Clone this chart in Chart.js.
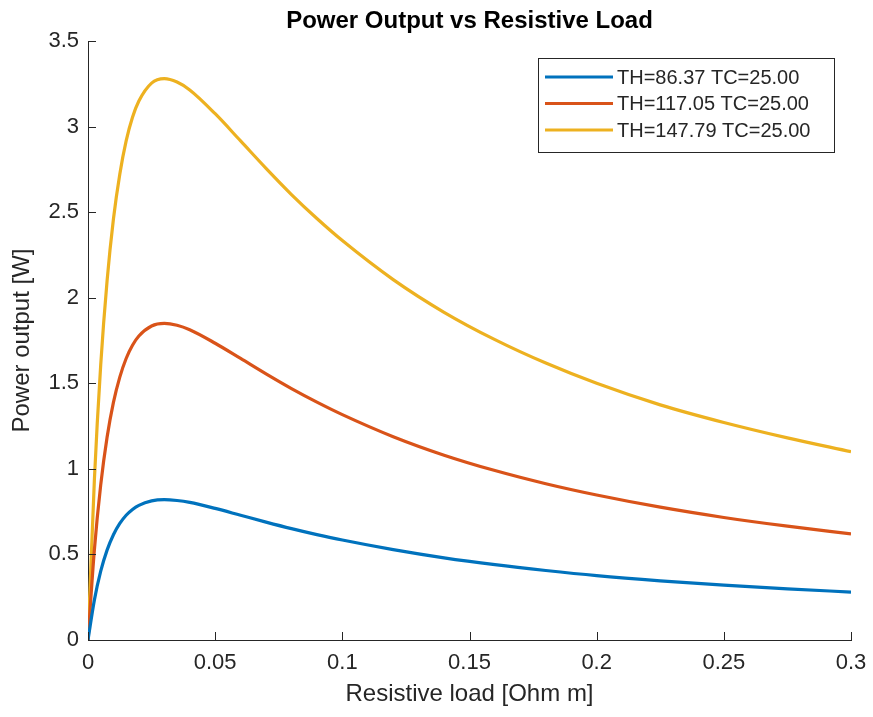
<!DOCTYPE html>
<html>
<head>
<meta charset="utf-8">
<title>Power Output vs Resistive Load</title>
<script src="https://cdn.jsdelivr.net/npm/chart.js@4/dist/chart.umd.min.js"></script>
<style>
  html, body { margin: 0; padding: 0; background: #ffffff; }
  #wrap { width: 873px; height: 717px; }
</style>
</head>
<body>
<div id="wrap"><canvas id="plot" width="873" height="717"></canvas></div>
<script>
// Values
const loadValues = [0, 0.0025, 0.005, 0.0075, 0.01, 0.0125, 0.015, 0.0175, 0.02, 0.025, 0.03, 0.035, 0.04,
    0.05, 0.06, 0.07, 0.08, 0.09, 0.1, 0.12, 0.14, 0.16, 0.18, 0.2, 0.225, 0.25, 0.275, 0.3];

const powerTH86 = [0, 0.233, 0.402, 0.525, 0.615, 0.681, 0.729, 0.763, 0.787, 0.813, 0.820, 0.815, 0.804,
    0.769, 0.729, 0.689, 0.651, 0.616, 0.584, 0.528, 0.480, 0.440, 0.406, 0.376, 0.346, 0.321, 0.299, 0.280];

const powerTH117 = [0, 0.525, 0.906, 1.184, 1.388, 1.536, 1.645, 1.722, 1.776, 1.835, 1.850, 1.839, 1.813,
    1.734, 1.645, 1.555, 1.469, 1.390, 1.317, 1.188, 1.080, 0.990, 0.913, 0.847, 0.776, 0.716, 0.665, 0.620];

const powerTH147 = [0, 0.932, 1.607, 2.099, 2.460, 2.722, 2.916, 3.054, 3.149, 3.254, 3.280, 3.260, 3.214,
    3.075, 2.916, 2.756, 2.603, 2.463, 2.334, 2.106, 1.915, 1.755, 1.618, 1.500, 1.374, 1.271, 1.181, 1.100];

const seriesLabels = ['TH=86.37 TC=25.00', 'TH=117.05 TC=25.00', 'TH=147.79 TC=25.00'];
const xTickValues = [0, 0.05, 0.1, 0.15, 0.2, 0.25, 0.3];
const yTickValues = [0, 0.5, 1, 1.5, 2, 2.5, 3, 3.5];

const colors = ['#0072BD', '#D95319', '#EDB120'];
const axisColor = '#262626';
const fontFamily = '"Liberation Sans", Arial, Helvetica, sans-serif';

const toPoints = ys => ys.map((y, i) => ({ x: loadValues[i], y }));

const datasets = [powerTH86, powerTH117, powerTH147].map((ys, i) => ({
    label: seriesLabels[i],
    data: toPoints(ys),
    borderColor: colors[i],
    backgroundColor: colors[i],
    borderWidth: 3.2,
    pointRadius: 0,
    cubicInterpolationMode: 'monotone',
    fill: false,
}));

// MATLAB style: ticks pointing into the axes, title, boxed legend in the corner
const matlabPlugin = {
    id: 'matlabLook',
    afterDatasetsDraw(chart) {
        const ctx = chart.ctx;
        const { x, y } = chart.scales;
        const area = chart.chartArea;
        const len = 8;
        ctx.save();
        ctx.strokeStyle = axisColor;
        ctx.lineWidth = 1;
        x.ticks.forEach(t => {
            const px = Math.round(x.getPixelForValue(t.value)) + 0.5;
            ctx.beginPath();
            ctx.moveTo(px, area.bottom);
            ctx.lineTo(px, area.bottom - len);
            ctx.stroke();
        });
        y.ticks.forEach(t => {
            const py = Math.round(y.getPixelForValue(t.value)) + 0.5;
            ctx.beginPath();
            ctx.moveTo(area.left, py);
            ctx.lineTo(area.left + len, py);
            ctx.stroke();
        });
        ctx.restore();
    },
    afterDraw(chart) {
        const ctx = chart.ctx;
        const area = chart.chartArea;
        ctx.save();

        // title
        ctx.fillStyle = '#000000';
        ctx.font = 'bold 24px ' + fontFamily;
        ctx.textAlign = 'center';
        ctx.textBaseline = 'alphabetic';
        ctx.fillText('Power Output vs Resistive Load', (area.left + area.right) / 2, 28);

        // legend box
        const boxX = 538.5, boxY = 58.5, boxW = 296, boxH = 94;
        ctx.fillStyle = '#ffffff';
        ctx.fillRect(boxX, boxY, boxW, boxH);
        ctx.strokeStyle = axisColor;
        ctx.lineWidth = 1;
        ctx.strokeRect(boxX, boxY, boxW, boxH);

        ctx.font = '20px ' + fontFamily;
        ctx.textAlign = 'left';
        ctx.textBaseline = 'middle';
        chart.data.datasets.forEach((ds, i) => {
            const rowY = 77 + i * 26.5;
            ctx.strokeStyle = ds.borderColor;
            ctx.lineWidth = 3.2;
            ctx.beginPath();
            ctx.moveTo(545, rowY);
            ctx.lineTo(613, rowY);
            ctx.stroke();
            ctx.fillStyle = axisColor;
            ctx.fillText(ds.label, 617, rowY + 1);
        });
        ctx.restore();
    }
};

const tickFont = { family: fontFamily, size: 22 };
const labelFont = { family: fontFamily, size: 24 };

new Chart(document.getElementById('plot'), {
    type: 'line',
    data: { datasets },
    plugins: [matlabPlugin],
    options: {
        responsive: false,
        animation: false,
        layout: { padding: { top: 41, right: 22, left: 0, bottom: 0 } },
        plugins: {
            legend: { display: false },
            title: { display: false },
            tooltip: { enabled: false },
        },
        scales: {
            x: {
                type: 'linear',
                min: 0,
                max: 0.3,
                afterBuildTicks: scale => { scale.ticks = xTickValues.map(v => ({ value: v })); },
                afterFit: scale => {
                    scale.height = 77;
                    scale.paddingLeft = 0;
                    scale.paddingRight = 0;
                },
                ticks: {
                    color: axisColor,
                    font: tickFont,
                    padding: 10,
                    maxRotation: 0,
                    callback: v => String(v),
                },
                grid: { display: false, drawTicks: false },
                border: { display: true, color: axisColor, width: 1 },
                title: {
                    display: true,
                    text: 'Resistive load [Ohm m]',
                    color: axisColor,
                    font: labelFont,
                    padding: { top: 0, bottom: 8 },
                },
            },
            y: {
                type: 'linear',
                min: 0,
                max: 3.5,
                afterBuildTicks: scale => { scale.ticks = yTickValues.map(v => ({ value: v })); },
                afterFit: scale => {
                    scale.width = 88;
                    scale.paddingTop = 0;
                    scale.paddingBottom = 0;
                },
                ticks: {
                    color: axisColor,
                    font: tickFont,
                    padding: 9,
                    callback: v => String(v),
                },
                grid: { display: false, drawTicks: false },
                border: { display: true, color: axisColor, width: 1 },
                title: {
                    display: true,
                    text: 'Power output [W]',
                    color: axisColor,
                    font: labelFont,
                    padding: { top: 8, bottom: 0 },
                },
            },
        },
    },
});
</script>
</body>
</html>
